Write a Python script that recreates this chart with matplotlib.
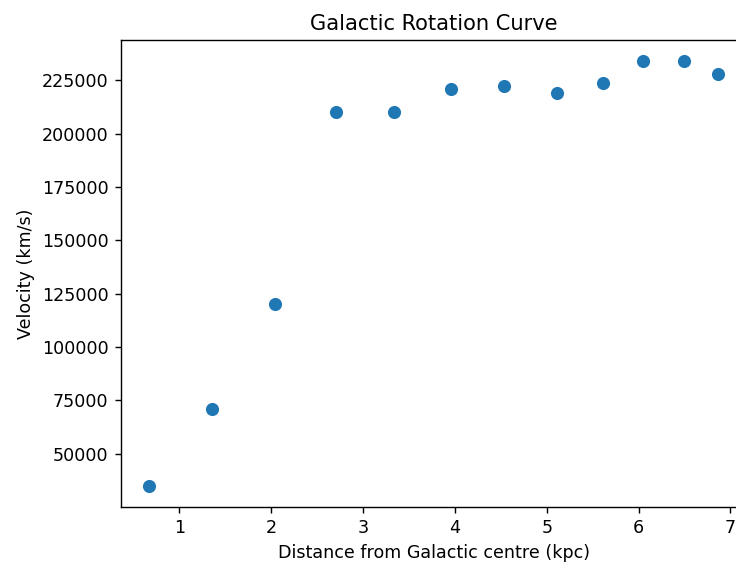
import matplotlib
matplotlib.use("Agg")
import matplotlib.pyplot as plt

distance_kpc = [0.674, 1.36, 2.04, 2.71, 3.34, 3.96, 4.53, 5.11, 5.61, 6.05, 6.49, 6.86]
velocity = [35000, 70800, 120100, 210000, 210000, 220800, 222300, 219000, 223600, 234000, 234000, 227800]

dpi = 126
fig = plt.figure(figsize=(736 / dpi, 563 / dpi), dpi=dpi)
ax = fig.add_axes([121 / 736, 56 / 563, 625 / 736, 467 / 563])
ax.scatter(distance_kpc, velocity, color="#1f77b4", s=42)
ax.set_title("Galactic Rotation Curve")
ax.set_xlabel("Distance from Galactic centre (kpc)")
ax.set_ylabel("Velocity (km/s)")
fig.savefig("out.png", dpi=dpi)
